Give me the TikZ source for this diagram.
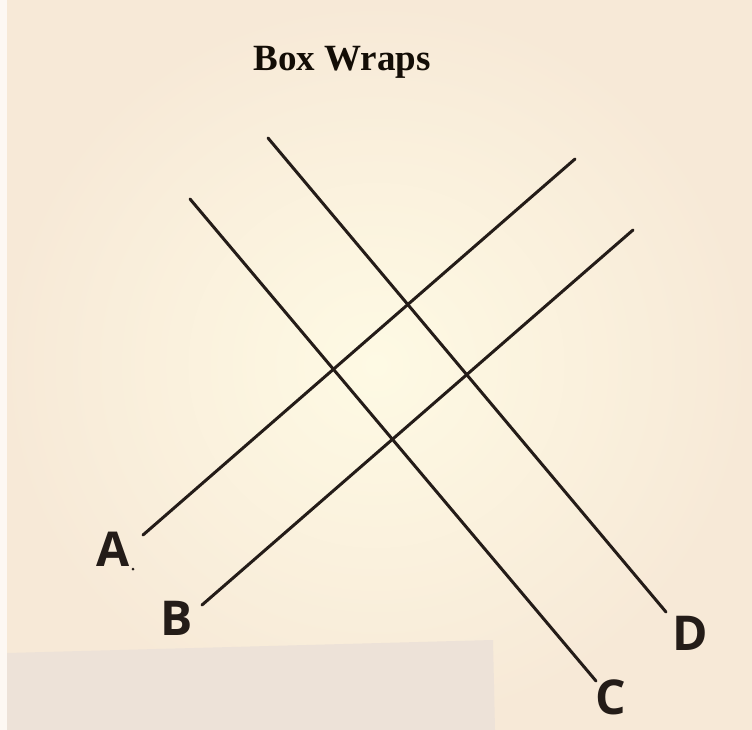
\documentclass[tikz,border=0pt]{standalone}
\usepackage{fontspec}
\setmainfont{Liberation Serif}
\newfontfamily\handfont{Open Sans}
\definecolor{papercream}{RGB}{254,250,228}
\definecolor{paperpeach}{RGB}{247,233,215}
\definecolor{panelgrey}{RGB}{237,226,216}
\definecolor{inkbrown}{RGB}{36,28,24}
\tikzset{
  wrapline/.style={draw=inkbrown, line width=3pt, line cap=round},
  handlabel/.style={inner sep=0.75pt, text=inkbrown, font=\handfont\bfseries\fontsize{48}{48}\selectfont},
}
\begin{document}
\begin{tikzpicture}[x=1pt,y=1pt,yscale=-1,xscale=1]
                % Background
                \useasboundingbox (0,0) rectangle (752,730);
                \shade [inner color=papercream, outer color=paperpeach] (0,0) rectangle (752,730);
                \fill [white!70!paperpeach] (0,0) rectangle (7,730);
                %Shape: Polygon
                \fill [panelgrey] (7,653) -- (493,640) -- (495,730) -- (7,730) -- cycle ;

                % End points
                \coordinate (a1) at (143,535);
                \coordinate (a2) at (575,159);
                \coordinate (b1) at (202,605);
                \coordinate (b2) at (633,230);
                \coordinate (c1) at (190,199);
                \coordinate (c2) at (596,681);
                \coordinate (d1) at (268,138);
                \coordinate (d2) at (666,612);

                %Straight Lines
                \draw [wrapline] (a1) -- (a2) ;
                \draw [wrapline] (b1) -- (b2) ;
                \draw [wrapline] (c1) -- (c2) ;
                \draw [wrapline] (d1) -- (d2) ;

                % Text Node
                \node (title) [inner sep=0.75pt, font=\bfseries\fontsize{37}{37}\selectfont, text=black!90!brown] at (342,62) {Box Wraps};
                % Text Node
                \node (labA) [handlabel] at (113,549) {A};
                \fill [inkbrown] (133,569) circle (1.5) ;
                % Text Node
                \node (labB) [handlabel] at (177,618) {B};
                % Text Node
                \node (labC) [handlabel] at (611,697) {C};
                % Text Node
                \node (labD) [handlabel] at (690,633) {D};
\end{tikzpicture}
\end{document}
